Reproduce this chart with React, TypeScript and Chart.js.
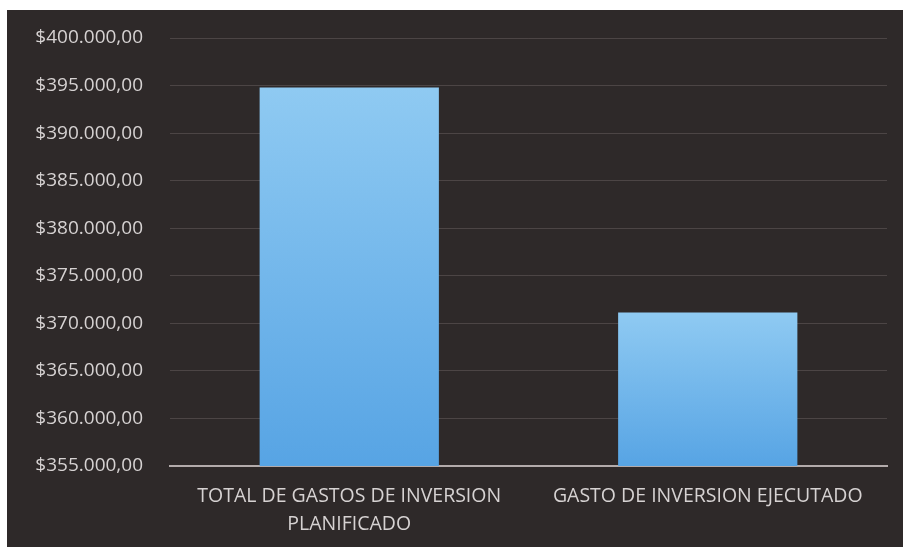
import React, { useEffect, useRef } from "react";
import { Chart, registerables } from "chart.js";

Chart.register(...registerables);

const categories: (string | string[])[] = [
  ["TOTAL DE GASTOS DE INVERSION", "PLANIFICADO"],
  "GASTO DE INVERSION EJECUTADO",
];
const values: number[] = [394800, 371150];
const yMin = 355000;
const yMax = 400000;
const yStep = 5000;

function fmt(v: number): string {
  const s = Math.round(v).toString().replace(/\B(?=(\d{3})+(?!\d))/g, ".");
  return "$" + s + ",00";
}

export default function App() {
  const ref = useRef<HTMLCanvasElement | null>(null);
  useEffect(() => {
    if (!ref.current) return;
    const chart = new Chart(ref.current, {
      type: "bar",
      data: {
        labels: categories,
        datasets: [
          {
            data: values,
            backgroundColor: (ctx: any) => {
              const { chart } = ctx;
              const area = chart.chartArea;
              const ys = chart.scales && chart.scales.y;
              if (!area || !ys) return "#74b6ee";
              const v = values[ctx.dataIndex];
              const top = ys.getPixelForValue(v);
              const g = chart.ctx.createLinearGradient(0, top, 0, area.bottom);
              g.addColorStop(0, "#8fcaf2");
              g.addColorStop(1, "#57a4e4");
              return g;
            },
            barPercentage: 0.5,
            categoryPercentage: 1,
            borderWidth: 0,
          },
        ],
      },
      options: {
        animation: false,
        responsive: false,
        maintainAspectRatio: false,
        layout: { padding: { top: 28, right: 16, left: 0, bottom: 0 } },
        plugins: { legend: { display: false }, tooltip: { enabled: false } },
        scales: {
          x: {
            grid: { display: false, drawTicks: false },
            border: { display: true, color: "#b3abab", width: 2 },
            ticks: {
              color: "#d6d2d2",
              font: { family: "Open Sans", size: 19.5, lineHeight: 1.45 },
              padding: 16,
              maxRotation: 0,
              autoSkip: false,
            },
            afterFit: (s: any) => {
              s.height = 81;
              s.paddingLeft = 0;
              s.paddingRight = 0;
            },
          },
          y: {
            min: yMin,
            max: yMax,
            grid: { color: "rgba(200,185,185,0.2)", lineWidth: 1, drawTicks: false },
            border: { display: false },
            ticks: {
              stepSize: yStep,
              color: "#d6d2d2",
              font: { family: "Open Sans", size: 19 },
              padding: 27,
              callback: (v: any) => fmt(Number(v)),
            },
            afterFit: (s: any) => {
              s.width = 163;
              s.paddingTop = 0;
              s.paddingBottom = 0;
            },
          },
        },
      },
    });
    return () => chart.destroy();
  }, []);
  return (
    <div
      style={{
        position: "fixed",
        left: 7,
        top: 10,
        width: 896,
        height: 537,
        background: "#2e2929",
      }}
    >
      <canvas ref={ref} width={896} height={537} style={{ display: "block" }} />
    </div>
  );
}
